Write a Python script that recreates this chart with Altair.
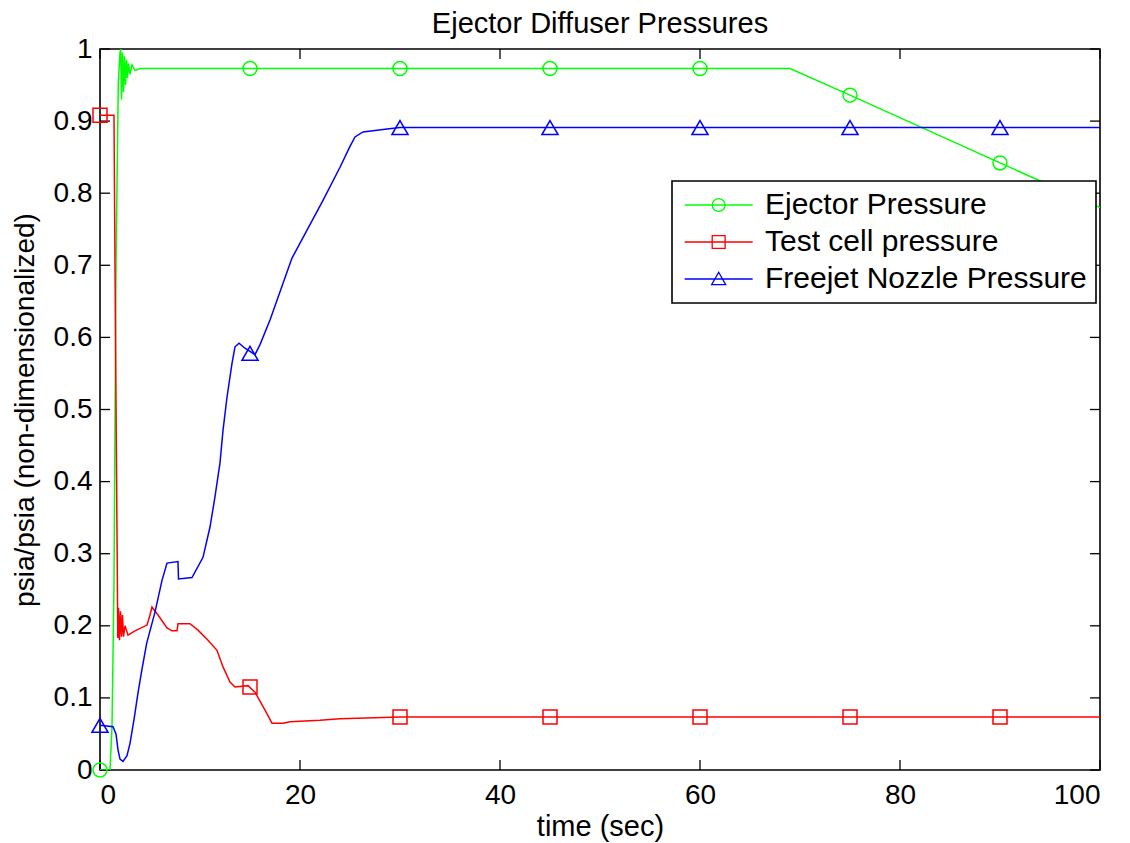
import altair as alt
import pandas as pd

names = ["Ejector Pressure", "Test cell pressure", "Freejet Nozzle Pressure"]
colors = ["#00ff00", "#ff0000", "#0000ff"]

# Ejector pressure trace
ej_t = [0, 1.0, 1.2, 1.4, 1.6, 1.83, 2.0, 2.07, 2.15, 2.25, 2.35, 2.45, 2.55, 2.65, 2.75, 2.85,
        3.0, 3.2, 3.5, 4.0, 69.0, 75.0, 90.0, 100.0]
ej_v = [0, 0, 0.06, 0.26, 0.70, 0.953, 0.995, 1.0, 0.93, 0.995, 0.94, 0.99, 0.95, 0.985, 0.96, 0.98,
        0.965, 0.978, 0.97, 0.973, 0.973, 0.936, 0.842, 0.78]

# Test cell pressure trace
tc_t = [0, 1.4, 1.5, 1.7, 1.78, 1.85, 1.95, 2.05, 2.15, 2.25, 2.35, 2.5, 2.8, 3.5, 4.7, 5.0, 5.2, 5.8,
        6.7, 7.2, 7.7, 7.8, 9.0, 9.8, 10.8, 11.7, 12.3, 13.0, 13.5, 14.8, 15.5, 16.5, 17.2, 18.3,
        19.0, 22.0, 24.0, 30.0, 100.0]
tc_v = [0.908, 0.908, 0.7, 0.33, 0.183, 0.225, 0.18, 0.22, 0.185, 0.215, 0.185, 0.2, 0.187, 0.193,
        0.201, 0.215, 0.226, 0.215, 0.197, 0.193, 0.193, 0.203, 0.203, 0.194, 0.18, 0.166, 0.143,
        0.122, 0.115, 0.117, 0.108, 0.083, 0.065, 0.065, 0.067, 0.069, 0.071, 0.0735, 0.0735]

# Freejet nozzle pressure trace
fj_t = [0, 1.3, 1.6, 1.8, 2.0, 2.3, 2.7, 3.0, 3.4, 3.8, 4.2, 4.67, 5.5, 6.2, 6.7, 7.8, 7.85, 9.2,
        10.3, 11.0, 11.5, 12.0, 12.3, 12.7, 13.2, 13.5, 13.9, 14.5, 15.5, 16.0, 17.0, 19.2, 22.3,
        24.0, 25.0, 25.5, 26.3, 28.7, 30.0, 100.0]
fj_v = [0.062, 0.06, 0.05, 0.028, 0.015, 0.012, 0.02, 0.037, 0.07, 0.107, 0.14, 0.176, 0.219,
        0.263, 0.287, 0.289, 0.265, 0.267, 0.295, 0.337, 0.379, 0.426, 0.471, 0.517, 0.564, 0.587,
        0.592, 0.585, 0.576, 0.59, 0.624, 0.71, 0.79, 0.836, 0.865, 0.878, 0.885, 0.889, 0.891, 0.891]

# Marker positions (every 15 s)
marker_t = [0, 15, 30, 45, 60, 75, 90]
ej_m = [0.0, 0.973, 0.973, 0.973, 0.973, 0.936, 0.842]
tc_m = [0.908, 0.115, 0.0735, 0.0735, 0.0735, 0.0735, 0.0735]
fj_m = [0.062, 0.578, 0.891, 0.891, 0.891, 0.891, 0.891]

x_ticks = [0, 20, 40, 60, 80, 100]
y_ticks = [0, 0.1, 0.2, 0.3, 0.4, 0.5, 0.6, 0.7, 0.8, 0.9, 1]

FONT = "Liberation Sans"
W, H = 1000, 721

lines = pd.concat([
    pd.DataFrame({"series": names[0], "t": ej_t, "v": ej_v}),
    pd.DataFrame({"series": names[1], "t": tc_t, "v": tc_v}),
    pd.DataFrame({"series": names[2], "t": fj_t, "v": fj_v}),
])
marks = pd.concat([
    pd.DataFrame({"series": names[0], "t": marker_t, "v": ej_m}),
    pd.DataFrame({"series": names[1], "t": marker_t, "v": tc_m}),
    pd.DataFrame({"series": names[2], "t": marker_t, "v": fj_m}),
])
xt = pd.DataFrame({"v": x_ticks})
yt = pd.DataFrame({"v": y_ticks})

xscale = alt.Scale(domain=[0, 100], nice=False, zero=False)
yscale = alt.Scale(domain=[0, 1], nice=False, zero=False)

plot_shapes = [
    "M1,0A1,1,0,1,1,-1,0A1,1,0,1,1,1,0Z",
    "M-1,-1H1V1H-1Z",
    "M0,-1L1.15,1H-1.15Z",
]
legend_shapes = [
    "M-1,0H5M2.57,0A0.57,0.57,0,1,1,1.43,0A0.57,0.57,0,1,1,2.57,0Z",
    "M-1,0H5M1.43,-0.57H2.57V0.57H1.43Z",
    "M-1,0H5M2,-0.6L2.62,0.5H1.38Z",
]

color_scale = alt.Scale(domain=names, range=colors)

line_layer = alt.Chart(lines).mark_line(strokeWidth=1.5, clip=True).encode(
    x=alt.X("t:Q", scale=xscale,
            axis=alt.Axis(values=x_ticks, title="time (sec)", labelPadding=11,
                          titlePadding=3, format="d")),
    y=alt.Y("v:Q", scale=yscale,
            axis=alt.Axis(values=y_ticks, title="psia/psia (non-dimensionalized)",
                          labelPadding=8, titlePadding=14, titleFontSize=28, format="~g")),
    color=alt.Color("series:N", scale=color_scale, legend=None),
    detail="series:N",
)

marker_layer = alt.Chart(marks).mark_point(filled=False, strokeWidth=1.5, size=196, opacity=1).encode(
    x=alt.X("t:Q", scale=xscale),
    y=alt.Y("v:Q", scale=yscale),
    color=alt.Color("series:N", scale=color_scale, legend=None),
    shape=alt.Shape("series:N", scale=alt.Scale(domain=names, range=plot_shapes), legend=None),
)

leg = alt.Legend(orient="none", legendX=572, legendY=132, title=None,
                 labelFontSize=30, labelFont=FONT, labelColor="black", labelLimit=500,
                 labelOffset=54, symbolSize=514, symbolStrokeWidth=1.3,
                 symbolFillColor="transparent",
                 strokeColor="black", fillColor="white", padding=9, rowPadding=7)

legend_layer = alt.Chart(marks).mark_point(filled=False, strokeWidth=1.3, size=514, opacity=1).encode(
    x=alt.X("t:Q", scale=xscale),
    y=alt.Y("v:Q", scale=yscale),
    color=alt.Color("series:N", scale=color_scale, legend=leg),
    shape=alt.Shape("series:N", scale=alt.Scale(domain=names, range=legend_shapes), legend=leg),
).transform_filter("false")

tick_style = dict(color="black", strokeWidth=1.3)
xb = alt.Chart(xt).mark_rule(**tick_style).encode(
    x=alt.X("v:Q", scale=xscale), y=alt.value(H), y2=alt.value(H - 10))
xtop = alt.Chart(xt).mark_rule(**tick_style).encode(
    x=alt.X("v:Q", scale=xscale), y=alt.value(0), y2=alt.value(10))
yl = alt.Chart(yt).mark_rule(**tick_style).encode(
    y=alt.Y("v:Q", scale=yscale), x=alt.value(0), x2=alt.value(10))
yr = alt.Chart(yt).mark_rule(**tick_style).encode(
    y=alt.Y("v:Q", scale=yscale), x=alt.value(W), x2=alt.value(W - 10))

chart = alt.layer(
    xb, xtop, yl, yr, line_layer, marker_layer, legend_layer
).resolve_scale(
    color="independent", shape="independent"
).properties(
    width=W, height=H,
    title=alt.TitleParams("Ejector Diffuser Pressures", fontSize=29, font=FONT,
                          fontWeight="normal", color="black", anchor="middle", offset=-4),
    autosize=alt.AutoSizeParams(type="none"),
    padding={"left": 92, "top": 41, "right": 22, "bottom": 72},
    background="white",
).configure_view(
    stroke="black", strokeWidth=1.6
).configure_axis(
    domain=False, ticks=False, tickSize=0, grid=False,
    labelFont=FONT, labelFontSize=28, labelColor="black",
    titleFont=FONT, titleFontSize=29, titleFontWeight="normal", titleColor="black",
).configure_legend(
    strokeWidth=1.6
)

chart.save("out.html", embed_options={"renderer": "svg", "actions": False})
